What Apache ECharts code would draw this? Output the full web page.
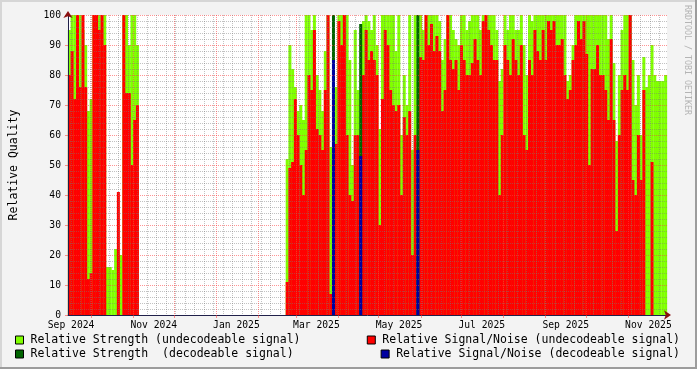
<!DOCTYPE html>
<html><head><meta charset="utf-8">
<script src="https://cdn.jsdelivr.net/npm/echarts@6/dist/echarts.min.js"></script>
<style>html,body{margin:0;padding:0;background:#f3f3f3}#c{width:697px;height:369px}</style>
</head><body><div id="c"></div>
<script>
// x axis unit: days since 2024-09-01
const xMin = 12.7;
const xMax = 454.7;
const binCount = 220;

const strengthUndec = [
95,100,100,100,100,95,90,68,72,100,100,100,100,100,16,16,15,22,20,20,100,100,90,100,100,90,
null,null,null,null,null,null,null,null,null,null,null,null,null,null,null,null,null,null,
null,null,null,null,null,null,null,null,null,null,null,null,null,null,null,null,null,null,
null,null,null,null,null,null,null,null,null,null,null,null,null,null,null,null,null,null,
52,90,82,76,68,70,65,100,100,95,
100,80,75,68,88,100,56,null,76,100,
100,100,100,85,50,95,75,null,98,100,
98,95,100,90,62,100,100,100,100,100,
88,100,60,80,70,100,55,100,null,100,
95,100,100,100,100,100,98,85,92,100,
100,95,92,90,100,100,95,98,100,100,
100,95,100,100,100,100,100,95,78,82,
100,95,100,100,95,95,100,90,80,100,
98,100,100,100,100,100,100,100,100,100,
100,100,100,78,80,90,100,100,100,100,
100,100,100,100,100,100,100,100,92,100,
84,58,80,95,100,100,100,85,70,80,
60,86,76,80,90,80,78,78,78,80
];
const snrUndec = [
80,88,72,100,76,100,76,12,14,100,100,95,100,90,0,0,0,0,41,0,100,74,74,50,65,70,
null,null,null,null,null,null,null,null,null,null,null,null,null,null,null,null,null,null,
null,null,null,null,null,null,null,null,null,null,null,null,null,null,null,null,null,null,
null,null,null,null,null,null,null,null,null,null,null,null,null,null,null,null,null,null,
11,49,51,72,60,50,40,55,80,75,
95,62,60,55,75,100,7,null,57,98,
90,100,60,40,38,60,60,null,80,95,
85,88,85,80,30,72,95,90,75,70,
68,70,40,66,60,68,20,60,null,86,
85,100,90,97,88,93,88,68,75,100,
85,82,85,75,90,85,80,80,84,92,
85,80,98,100,95,90,85,85,40,60,
90,85,80,92,85,80,90,60,55,85,
80,95,88,85,95,85,98,95,98,90,
90,92,80,72,75,85,90,98,92,98,
87,50,82,82,90,80,80,75,65,92,
65,28,60,75,80,75,100,45,40,60,
45,75,0,0,51,0,0,0,0,0
];
const decBins = [97, 107, 128];
const strengthDec = [100, 97, 100];
const snrDec = [85, 53, 55];

const monthStarts = [30,61,91,122,153,181,212,242,273,303,334,365,395,426];
const labelDays = [15,76,137,196,257,318,380,441];
const labelTexts = ['Sep 2024','Nov 2024','Jan 2025','Mar 2025','May 2025','Jul 2025','Sep 2025','Nov 2025'];
const yTicks = {min: 0, max: 100, interval: 10};

const names = ['Relative Strength (undecodeable signal)','Relative Signal/Noise (undecodeable signal)',
  'Relative Strength  (decodeable signal)','Relative Signal/Noise (decodeable signal)'];
const colors = ['#80ff00','#ff0000','#006400','#0000a0'];

const binDays = (xMax - xMin) / binCount;
const xOf = i => xMin + (i + 0.5) * binDays;
const toPairs = arr => arr.map((v, i) => [xOf(i), v]);
const decPairs = vals => decBins.map((b, k) => [xOf(b), vals[k]]);
const weekly = [];
for (let d = 1; d < xMax; d += 7) if (d > xMin) weekly.push(d);

const mono = 'DejaVu Sans Mono';
const majorGrid = 'rgba(255,60,60,0.55)';
const minorGrid = 'rgba(120,120,120,0.45)';
const axisCol = '#20204a';
const arrowCol = '#8b1010';

const bar = (k, data) => ({
  type: 'bar', name: names[k], data: data, barWidth: 3, barGap: '-100%',
  itemStyle: {color: colors[k]}, silent: true, animation: false
});

const legendBase = {
  padding: 0, itemWidth: 8, itemHeight: 8, selectedMode: false, icon: 'rect',
  itemStyle: {borderColor: '#000', borderWidth: 1},
  textStyle: {fontFamily: mono, fontSize: 11.5, color: '#000', padding: [0,0,0,2]}
};

const chart = echarts.init(document.getElementById('c'));
chart.setOption({
  backgroundColor: '#f3f3f3',
  animation: false,
  grid: {left: 67, right: 30, top: 15, bottom: 54, show: true, backgroundColor: '#ffffff', borderWidth: 0},
  legend: [
    Object.assign({}, legendBase, {left: 15, top: 334, data: [names[0]]}),
    Object.assign({}, legendBase, {right: 17, top: 334, data: [names[1]]}),
    Object.assign({}, legendBase, {left: 15, top: 348, data: [names[2]]}),
    Object.assign({}, legendBase, {right: 17, top: 348, data: [names[3]]})
  ],
  xAxis: [{
    type: 'value', min: xMin, max: xMax, position: 'bottom', z: 3,
    axisLine: {show: true, lineStyle: {color: axisCol, width: 1}},
    axisTick: {show: true, customValues: monthStarts, length: 3, lineStyle: {color: majorGrid}},
    axisLabel: {customValues: labelDays, fontFamily: mono, fontSize: 9.7, color: '#000', margin: 5,
      formatter: v => labelTexts[labelDays.indexOf(Math.round(v))] || ''},
    splitLine: {show: true, lineStyle: {color: majorGrid, type: [1, 1], width: 1}}
  }, {
    type: 'value', min: xMin, max: xMax, position: 'bottom', z: 3,
    axisLine: {show: true, symbol: ['none', 'arrow'], symbolSize: [7, 7], symbolOffset: [0, 4],
      lineStyle: {color: arrowCol, width: 0.01}},
    axisTick: {show: false, customValues: weekly},
    axisLabel: {show: false},
    splitLine: {show: true, lineStyle: {color: minorGrid, type: [1, 1], width: 1}}
  }],
  yAxis: [{
    type: 'value', min: yTicks.min, max: yTicks.max, interval: yTicks.interval, z: 3,
    name: 'Relative Quality', nameLocation: 'middle', nameGap: 48, nameRotate: 90,
    nameTextStyle: {fontFamily: mono, fontSize: 11.5, color: '#000'},
    axisLine: {show: true, lineStyle: {color: axisCol, width: 1}},
    axisTick: {show: true, length: 3, lineStyle: {color: majorGrid}},
    axisLabel: {fontFamily: mono, fontSize: 9.7, color: '#000', margin: 7},
    splitLine: {show: true, lineStyle: {color: majorGrid, type: [1, 1], width: 1}},
    minorTick: {show: false, splitNumber: 5},
    minorSplitLine: {show: true, lineStyle: {color: minorGrid, type: [1, 1], width: 1}}
  }, {
    type: 'value', min: yTicks.min, max: yTicks.max, position: 'left', z: 3,
    axisLine: {show: true, symbol: ['none', 'arrow'], symbolSize: [7, 7], symbolOffset: [0, 4],
      lineStyle: {color: arrowCol, width: 0.01}},
    axisTick: {show: false}, axisLabel: {show: false}, splitLine: {show: false}
  }],
  series: [
    bar(0, toPairs(strengthUndec)),
    bar(1, toPairs(snrUndec)),
    bar(2, decPairs(strengthDec)),
    bar(3, decPairs(snrDec))
  ],
  graphic: [
    {type: 'rect', left: 0, top: 0, shape: {width: 697, height: 2}, style: {fill: '#d6d6d6'}, silent: true},
    {type: 'rect', left: 0, top: 0, shape: {width: 2, height: 369}, style: {fill: '#d6d6d6'}, silent: true},
    {type: 'rect', left: 695, top: 0, shape: {width: 2, height: 369}, style: {fill: '#9c9c9c'}, silent: true},
    {type: 'rect', left: 0, top: 367, shape: {width: 697, height: 2}, style: {fill: '#9c9c9c'}, silent: true},
    {type: 'text', x: 687, y: 5, rotation: -Math.PI / 2, silent: true,
      style: {text: 'RRDTOOL / TOBI OETIKER', font: '8.3px "DejaVu Sans Mono"', fill: '#b4b4b4',
        align: 'left', verticalAlign: 'middle'}}
  ]
});
</script></body></html>
